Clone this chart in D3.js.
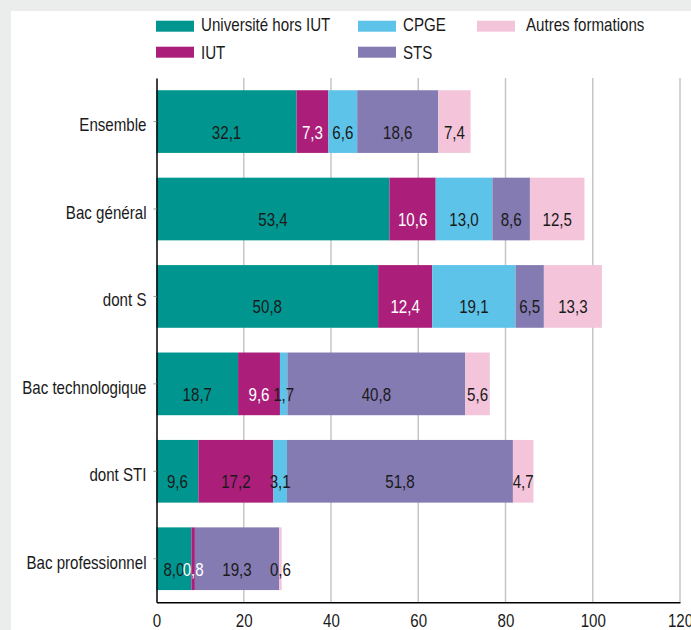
<!DOCTYPE html>
<html>
<head>
<meta charset="utf-8" />
<title>Stacked bars</title>
<script src="https://d3js.org/d3.v7.min.js"></script>
<style>
    body { margin: 0; background: #ebeded; }
    svg text { font-family: "Liberation Sans", Arial, sans-serif; }
</style>
</head>
<body>
<svg width="691" height="630"></svg>
<script>
    var categories = ["Ensemble", "Bac général", "dont S", "Bac technologique", "dont STI", "Bac professionnel"];
    var series = ["Université hors IUT", "IUT", "CPGE", "STS", "Autres formations"];
    var univ   = [32.1, 53.4, 50.8, 18.7,  9.6,  8.0];
    var iut    = [ 7.3, 10.6, 12.4,  9.6, 17.2,  0.8];
    var cpge   = [ 6.6, 13.0, 19.1,  1.7,  3.1, null];
    var sts    = [18.6,  8.6,  6.5, 40.8, 51.8, 19.3];
    var autres = [ 7.4, 12.5, 13.3,  5.6,  4.7,  0.6];
    var xTicks = [0, 20, 40, 60, 80, 100, 120];

    var colors = ["#00968f", "#ab1f7b", "#5dc3e8", "#847bb2", "#f4c5da"];
    var squeeze = 0.84; // the source text is a narrow face

    // rows for the stack
    var values = [univ, iut, cpge, sts, autres];
    var rows = categories.map(function(c, i) {
        var r = { cat: c };
        series.forEach(function(s, j) { r[s] = values[j][i] || 0; });
        return r;
    });

    var svg = d3.select("svg");

    // white panel
    svg.append("rect").attr("x", 11).attr("y", 11).attr("width", 691).attr("height", 630).attr("fill", "#fff");

    var x = d3.scaleLinear().domain([0, 120]).range([156.5, 680]);
    var y = d3.scaleBand().domain(categories).range([78, 602.3]).paddingInner(0.283).paddingOuter(0.14);

    // grid lines
    svg.append("g").selectAll("line")
        .data(xTicks.slice(1))
        .enter().append("line")
        .attr("x1", d => x(d)).attr("x2", d => x(d))
        .attr("y1", 78).attr("y2", 602.3)
        .attr("stroke", "#c6c6c6").attr("stroke-width", 1.5);

    var stack = d3.stack().keys(series);
    var layers = stack(rows);

    var g = svg.append("g");
    layers.forEach(function(layer, k) {
        g.append("g").attr("fill", colors[k])
            .selectAll("rect")
            .data(layer)
            .enter().append("rect")
            .attr("x", d => x(d[0]))
            .attr("width", d => x(d[1]) - x(d[0]))
            .attr("y", d => y(d.data.cat))
            .attr("height", y.bandwidth());
    });

    // value labels
    layers.forEach(function(layer, k) {
        g.append("g").selectAll("text")
            .data(layer.filter(d => values[k][categories.indexOf(d.data.cat)] != null))
            .enter().append("text")
            .attr("transform", d => "translate(" + (x(d[0]) + x(d[1])) / 2 + "," + (y(d.data.cat) + y.bandwidth() / 2 + 17) + ") scale(" + squeeze + ",1)")
            .attr("text-anchor", "middle")
            .attr("font-size", 18)
            .attr("fill", d => (series[k] === "IUT" && d.data.cat !== "dont STI") ? "#fff" : "#1a1a1a")
            .text(d => d3.format(".1f")(d[1] - d[0]).replace(".", ","));
    });

    // left axis
    var yAxis = svg.append("g")
        .attr("transform", "translate(156.5,0)")
        .call(d3.axisLeft(y).tickSize(3).tickSizeOuter(0).tickPadding(7));
    yAxis.select(".domain").attr("stroke", "#000").attr("stroke-width", 1.5);
    yAxis.selectAll(".tick line").attr("stroke", "#999");
    yAxis.selectAll("text")
        .attr("font-size", 18).attr("fill", "#1a1a1a").attr("dy", "0.55em")
        .attr("x", -10 / squeeze)
        .attr("transform", "scale(" + squeeze + ",1)");

    // bottom axis
    var xAxis = svg.append("g")
        .attr("transform", "translate(0,602.3)")
        .call(d3.axisBottom(x).tickValues(xTicks).tickSize(0).tickPadding(12));
    xAxis.select(".domain").attr("stroke", "#000").attr("stroke-width", 1.5);
    xAxis.selectAll("text")
        .attr("font-size", 18).attr("fill", "#1a1a1a")
        .attr("transform", "scale(" + squeeze + ",1)");

    // legend, filled column by column
    var legendPos = [[156, 20.7], [156, 46.7], [358, 20.7], [358, 46.7], [477, 20.7]];
    var textGap = [7, 7, 7, 7, 11];
    var legend = svg.append("g").selectAll("g")
        .data(series)
        .enter().append("g")
        .attr("transform", (d, i) => "translate(" + legendPos[i][0] + "," + legendPos[i][1] + ")");
    legend.append("rect").attr("width", 38).attr("height", 11).attr("fill", (d, i) => colors[i]);
    legend.append("text")
        .attr("transform", (d, i) => "translate(" + (38 + textGap[i]) + "," + (i % 2 ? 12.5 : 10.5) + ") scale(" + squeeze + ",1)")
        .attr("font-size", 18)
        .attr("fill", "#1a1a1a")
        .text(d => d);
</script>
</body>
</html>
